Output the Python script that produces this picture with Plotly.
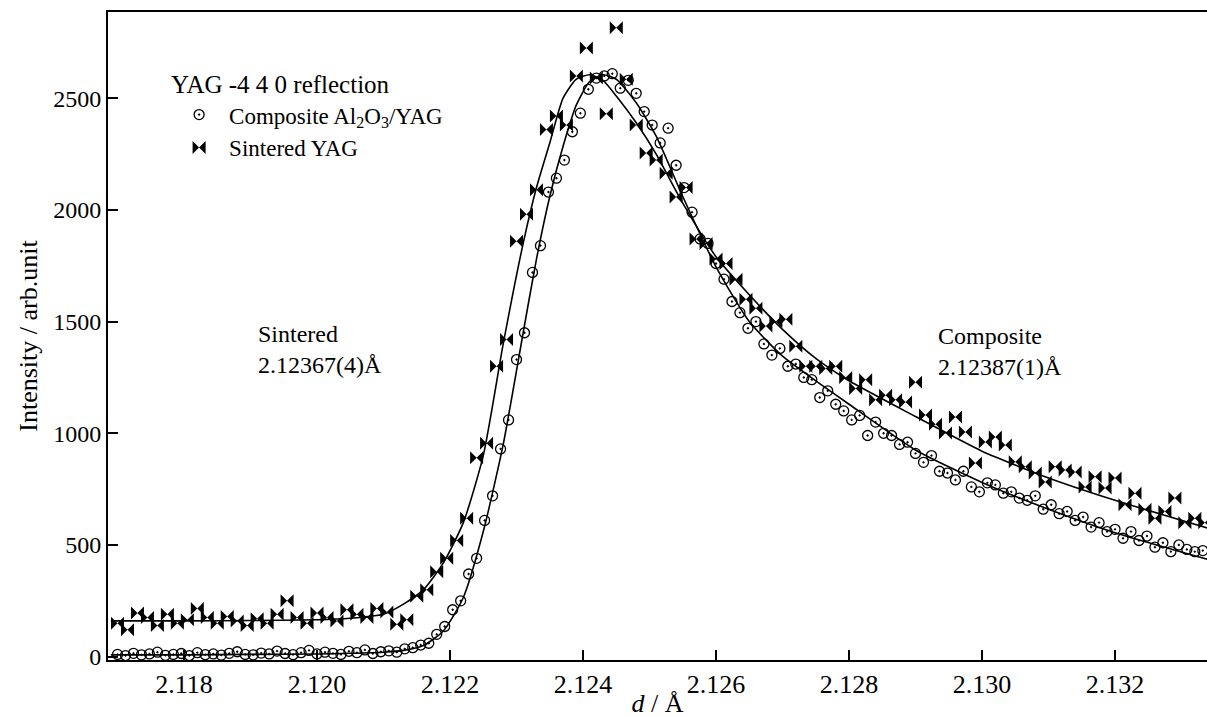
import numpy as np
import plotly.graph_objects as go

# ---- data ----
# Sintered YAG: measured intensities, scan starts at 2.11700 Å, step 0.00015 Å
sint_start, sint_step = 2.11700, 0.00015
sint_I = [150, 120, 195, 175, 140, 190, 150, 165, 215, 175,
          150, 180, 160, 140, 170, 150, 190, 250, 175, 150,
          195, 175, 160, 210, 190, 175, 215, 200, 145, 165,
          270, 300, 380, 440, 520, 620, 890, 955, 1300, 1420,
          1860, 1980, 2090, 2360, 2420, 2380, 2600, 2725, 2590, 2430,
          2815, 2585, 2380, 2255, 2223, 2164, 2058, 2100, 1870, 1850,
          1780, 1760, 1690, 1600, 1560, 1480, 1500, 1510, 1390, 1300,
          1300, 1290, 1300, 1250, 1200, 1240, 1150, 1170, 1150, 1140,
          1229, 1082, 1040, 1001, 1073, 1006, 867, 961, 983, 948,
          872, 850, 822, 782, 850, 836, 827, 760, 805, 755,
          800, 680, 732, 660, 620, 650, 710, 600, 620, 600]

# Composite Al2O3/YAG: scan starts at 2.11700 Å, step 0.00012 Å
comp_start, comp_step = 2.11700, 0.00012
comp_I = [10, 5, 15, 8, 12, 20, 6, 10, 14, 5,
          18, 9, 12, 7, 15, 22, 10, 8, 16, 12,
          25, 14, 9, 18, 28, 12, 20, 15, 10, 24,
          18, 30, 14, 22, 26, 20, 35,
          40, 52, 60, 100, 135, 210, 250, 370, 440, 610,
          720, 930, 1060, 1330, 1450, 1720, 1840, 2080, 2142, 2223,
          2350, 2433, 2540, 2590, 2600, 2610, 2545, 2580, 2522, 2440,
          2380, 2300, 2366, 2200, 2100, 1990, 1870, 1850, 1760, 1690,
          1590, 1540, 1470, 1500, 1400, 1350, 1380, 1300, 1310, 1250,
          1240, 1160, 1190, 1130, 1100, 1060, 1080, 990, 1050, 1000,
          990, 950, 960, 910, 870, 900, 830, 822, 791, 830,
          760, 738, 778, 769, 732, 738, 710, 700, 720, 660,
          680, 640, 650, 610, 625, 580, 600, 560, 570, 530,
          560, 520, 540, 490, 510, 470, 500, 480, 470, 475]

# fitted profiles
fit_d = [2.1169, 2.1180, 2.1190, 2.1200, 2.1205, 2.1210, 2.1213, 2.1216, 2.1219,
         2.1222, 2.1225, 2.1228, 2.1231, 2.1233, 2.1235, 2.1237, 2.1239, 2.1241,
         2.1243, 2.1245, 2.1248, 2.1251, 2.1255, 2.1260, 2.1265, 2.1270, 2.1275,
         2.1280, 2.1290, 2.1300, 2.1310, 2.1320, 2.1334]
sint_fit = [160, 160, 162, 165, 172, 190, 235, 300, 420, 600, 900, 1400, 1850,
            2100, 2300, 2500, 2585, 2605, 2580, 2510, 2390, 2250, 2030, 1790,
            1620, 1465, 1335, 1235, 1075, 920, 800, 700, 575]
comp_fit = [8, 8, 10, 12, 15, 20, 28, 50, 115, 265, 560, 950, 1450, 1780, 2060,
            2285, 2470, 2575, 2605, 2585, 2480, 2330, 2060, 1745, 1500, 1345,
            1235, 1130, 925, 780, 660, 555, 435]

x_ticks = [2.118, 2.120, 2.122, 2.124, 2.126, 2.128, 2.130, 2.132]
y_ticks = [0, 500, 1000, 1500, 2000, 2500]

sint_d = np.round(sint_start + sint_step * np.arange(len(sint_I)), 6)
comp_d = np.round(comp_start + comp_step * np.arange(len(comp_I)), 6)

FONT = "Liberation Serif, Times New Roman, DejaVu Serif, serif"

fig = go.Figure()
fig.add_trace(go.Scatter(
    x=comp_d, y=comp_I, mode="markers", name="Composite Al<sub>2</sub>O<sub>3</sub>/YAG",
    marker=dict(symbol="circle-open-dot", size=10, color="black", line=dict(width=1.3, color="black"))))
fig.add_trace(go.Scatter(
    x=sint_d, y=sint_I, mode="markers", name="Sintered YAG",
    marker=dict(symbol="bowtie", size=13, color="black", line=dict(width=0))))
fig.add_trace(go.Scatter(
    x=fit_d, y=sint_fit, mode="lines", showlegend=False,
    line=dict(color="black", width=1.6, shape="spline", smoothing=0.6)))
fig.add_trace(go.Scatter(
    x=fit_d, y=comp_fit, mode="lines", showlegend=False,
    line=dict(color="black", width=1.6, shape="spline", smoothing=0.6)))

fig.add_annotation(x=2.119083, y=1375, text="Sintered<br>2.12367(4)Å", showarrow=False,
                   xanchor="left", yanchor="middle", align="left",
                   font=dict(family=FONT, size=24, color="black"))
fig.add_annotation(x=2.129308, y=1366, text="Composite<br>2.12387(1)Å", showarrow=False,
                   xanchor="left", yanchor="middle", align="left",
                   font=dict(family=FONT, size=24, color="black"))

fig.update_layout(
    width=1207, height=718,
    margin=dict(l=108, r=0, t=12, b=58),
    paper_bgcolor="white", plot_bgcolor="white",
    font=dict(family=FONT, color="black"),
    showlegend=True,
    legend=dict(x=0.0556, y=0.925, xanchor="left", yanchor="top",
                bgcolor="rgba(0,0,0,0)", borderwidth=0,
                font=dict(family=FONT, size=23, color="black"),
                title=dict(text="YAG -4 4 0 reflection", font=dict(family=FONT, size=25, color="black")),
                itemwidth=50),
    xaxis=dict(range=[2.116857, 2.133383], tickvals=x_ticks, tickformat=".3f",
               ticks="inside", ticklen=10, tickwidth=1.5, tickcolor="black",
               showline=True, linewidth=1.8, linecolor="black", mirror=True,
               showgrid=False, zeroline=False,
               tickfont=dict(family=FONT, size=26, color="black"),
               title=dict(text="<i>d</i> / Å", font=dict(family=FONT, size=26, color="black"), standoff=2)),
    yaxis=dict(range=[-15, 2886], tickvals=y_ticks,
               ticks="inside", ticklen=10, tickwidth=1.5, tickcolor="black",
               showline=True, linewidth=1.8, linecolor="black",
               showgrid=False, zeroline=False,
               tickfont=dict(family=FONT, size=24, color="black"),
               title=dict(text="Intensity / arb.unit", font=dict(family=FONT, size=26, color="black"), standoff=8)),
)

fig.write_html("out.html")
